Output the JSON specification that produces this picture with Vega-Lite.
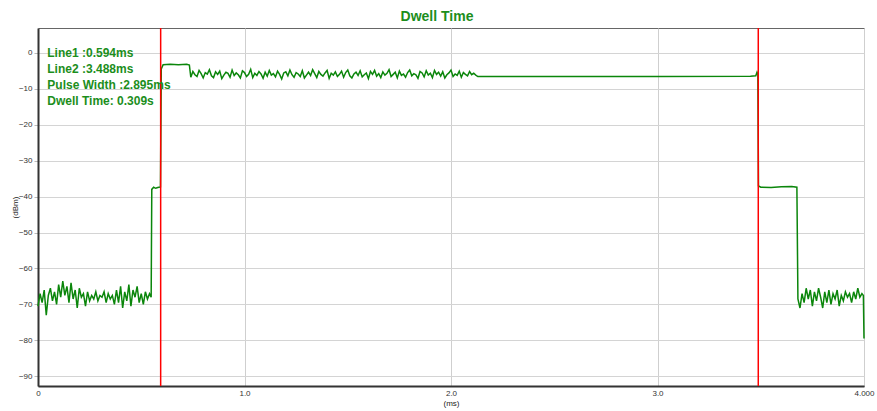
{
  "$schema": "https://vega.github.io/schema/vega-lite/v6.json",
  "width": 826,
  "height": 358,
  "autosize": {"type": "none"},
  "padding": {"left": 38, "top": 28, "right": 13, "bottom": 25},
  "background": "white",
  "title": {"text": "Dwell Time", "fontSize": 14, "fontWeight": "bold", "color": "#1c8e1c", "anchor": "middle", "offset": 3, "dx": -14, "font": "Liberation Sans"},
  "config": {"font": "Liberation Sans", "view": {"stroke": "#666666", "strokeWidth": 1}},
  "datasets": {
    "trace": [
      {"ms": 0.00, "dBm": -70.5}, {"ms": 0.01, "dBm": -67.0}, {"ms": 0.02, "dBm": -69.5}, {"ms": 0.03, "dBm": -66.0}, {"ms": 0.04, "dBm": -73.0},
      {"ms": 0.05, "dBm": -67.5}, {"ms": 0.06, "dBm": -65.5}, {"ms": 0.07, "dBm": -69.0}, {"ms": 0.08, "dBm": -66.5}, {"ms": 0.09, "dBm": -70.0},
      {"ms": 0.10, "dBm": -64.5}, {"ms": 0.11, "dBm": -68.0}, {"ms": 0.12, "dBm": -63.5}, {"ms": 0.13, "dBm": -67.5}, {"ms": 0.14, "dBm": -65.0},
      {"ms": 0.15, "dBm": -69.5}, {"ms": 0.16, "dBm": -64.0}, {"ms": 0.17, "dBm": -68.5}, {"ms": 0.18, "dBm": -66.0}, {"ms": 0.19, "dBm": -71.0},
      {"ms": 0.20, "dBm": -65.5}, {"ms": 0.21, "dBm": -68.0}, {"ms": 0.22, "dBm": -67.0}, {"ms": 0.23, "dBm": -70.5}, {"ms": 0.24, "dBm": -66.5},
      {"ms": 0.25, "dBm": -69.0}, {"ms": 0.26, "dBm": -67.5}, {"ms": 0.27, "dBm": -68.5}, {"ms": 0.28, "dBm": -66.5}, {"ms": 0.29, "dBm": -69.0},
      {"ms": 0.30, "dBm": -67.5}, {"ms": 0.31, "dBm": -68.0}, {"ms": 0.32, "dBm": -66.5}, {"ms": 0.33, "dBm": -69.5}, {"ms": 0.34, "dBm": -67.0},
      {"ms": 0.35, "dBm": -68.5}, {"ms": 0.36, "dBm": -67.5}, {"ms": 0.37, "dBm": -70.0}, {"ms": 0.38, "dBm": -66.0}, {"ms": 0.39, "dBm": -69.5},
      {"ms": 0.40, "dBm": -65.0}, {"ms": 0.41, "dBm": -71.0}, {"ms": 0.42, "dBm": -66.5}, {"ms": 0.43, "dBm": -69.0}, {"ms": 0.44, "dBm": -64.5},
      {"ms": 0.45, "dBm": -70.5}, {"ms": 0.46, "dBm": -66.0}, {"ms": 0.47, "dBm": -68.0}, {"ms": 0.48, "dBm": -65.0}, {"ms": 0.49, "dBm": -69.5},
      {"ms": 0.50, "dBm": -67.0}, {"ms": 0.51, "dBm": -70.0}, {"ms": 0.52, "dBm": -66.5}, {"ms": 0.53, "dBm": -68.5}, {"ms": 0.54, "dBm": -67.0},
      {"ms": 0.548, "dBm": -68.0}, {"ms": 0.551, "dBm": -38.0}, {"ms": 0.56, "dBm": -37.4}, {"ms": 0.57, "dBm": -37.7}, {"ms": 0.58, "dBm": -37.5},
      {"ms": 0.593, "dBm": -37.3}, {"ms": 0.597, "dBm": -4.5}, {"ms": 0.606, "dBm": -3.3}, {"ms": 0.64, "dBm": -3.2}, {"ms": 0.68, "dBm": -3.3},
      {"ms": 0.72, "dBm": -3.2}, {"ms": 0.733, "dBm": -3.4},
      {"ms": 0.74, "dBm": -6.8}, {"ms": 0.75, "dBm": -5.2}, {"ms": 0.76, "dBm": -6.1}, {"ms": 0.77, "dBm": -6.6}, {"ms": 0.78, "dBm": -4.9},
      {"ms": 0.79, "dBm": -5.8}, {"ms": 0.80, "dBm": -7.0}, {"ms": 0.81, "dBm": -5.5}, {"ms": 0.82, "dBm": -5.9}, {"ms": 0.83, "dBm": -4.7},
      {"ms": 0.84, "dBm": -6.4}, {"ms": 0.85, "dBm": -6.9}, {"ms": 0.86, "dBm": -5.3}, {"ms": 0.87, "dBm": -6.0}, {"ms": 0.88, "dBm": -5.1},
      {"ms": 0.89, "dBm": -7.2}, {"ms": 0.90, "dBm": -6.2}, {"ms": 0.91, "dBm": -5.4}, {"ms": 0.92, "dBm": -5.7}, {"ms": 0.93, "dBm": -6.8},
      {"ms": 0.94, "dBm": -4.8}, {"ms": 0.95, "dBm": -6.3}, {"ms": 0.96, "dBm": -5.6}, {"ms": 0.97, "dBm": -6.1}, {"ms": 0.98, "dBm": -7.0},
      {"ms": 0.99, "dBm": -5.0}, {"ms": 1.00, "dBm": -5.5}, {"ms": 1.01, "dBm": -6.6}, {"ms": 1.02, "dBm": -6.0}, {"ms": 1.03, "dBm": -4.6},
      {"ms": 1.04, "dBm": -6.9}, {"ms": 1.05, "dBm": -5.7}, {"ms": 1.06, "dBm": -6.3}, {"ms": 1.07, "dBm": -5.2}, {"ms": 1.08, "dBm": -5.9},
      {"ms": 1.09, "dBm": -7.1}, {"ms": 1.10, "dBm": -5.4}, {"ms": 1.11, "dBm": -6.5}, {"ms": 1.12, "dBm": -4.9}, {"ms": 1.13, "dBm": -6.2},
      {"ms": 1.14, "dBm": -5.8}, {"ms": 1.15, "dBm": -6.7}, {"ms": 1.16, "dBm": -5.1}, {"ms": 1.17, "dBm": -6.0}, {"ms": 1.18, "dBm": -7.3},
      {"ms": 1.19, "dBm": -5.6}, {"ms": 1.20, "dBm": -5.3}, {"ms": 1.21, "dBm": -6.4}, {"ms": 1.22, "dBm": -4.8}, {"ms": 1.23, "dBm": -6.1},
      {"ms": 1.24, "dBm": -6.8}, {"ms": 1.25, "dBm": -5.5}, {"ms": 1.26, "dBm": -5.9}, {"ms": 1.27, "dBm": -6.6}, {"ms": 1.28, "dBm": -5.0},
      {"ms": 1.29, "dBm": -7.0}, {"ms": 1.30, "dBm": -6.2}, {"ms": 1.31, "dBm": -5.4}, {"ms": 1.32, "dBm": -6.3}, {"ms": 1.33, "dBm": -4.7},
      {"ms": 1.34, "dBm": -5.8}, {"ms": 1.35, "dBm": -6.9}, {"ms": 1.36, "dBm": -5.2}, {"ms": 1.37, "dBm": -6.0}, {"ms": 1.38, "dBm": -6.5},
      {"ms": 1.39, "dBm": -5.6}, {"ms": 1.40, "dBm": -4.9}, {"ms": 1.41, "dBm": -7.1}, {"ms": 1.42, "dBm": -5.7}, {"ms": 1.43, "dBm": -6.2},
      {"ms": 1.44, "dBm": -5.3}, {"ms": 1.45, "dBm": -6.6}, {"ms": 1.46, "dBm": -6.0}, {"ms": 1.47, "dBm": -5.1}, {"ms": 1.48, "dBm": -6.8},
      {"ms": 1.49, "dBm": -5.5}, {"ms": 1.50, "dBm": -4.8}, {"ms": 1.51, "dBm": -6.4}, {"ms": 1.52, "dBm": -7.0}, {"ms": 1.53, "dBm": -5.9},
      {"ms": 1.54, "dBm": -5.4}, {"ms": 1.55, "dBm": -6.3}, {"ms": 1.56, "dBm": -5.0}, {"ms": 1.57, "dBm": -6.7}, {"ms": 1.58, "dBm": -6.1},
      {"ms": 1.59, "dBm": -5.6}, {"ms": 1.60, "dBm": -7.2}, {"ms": 1.61, "dBm": -5.2}, {"ms": 1.62, "dBm": -6.0}, {"ms": 1.63, "dBm": -4.9},
      {"ms": 1.64, "dBm": -6.5}, {"ms": 1.65, "dBm": -5.8}, {"ms": 1.66, "dBm": -6.9}, {"ms": 1.67, "dBm": -5.3}, {"ms": 1.68, "dBm": -6.2},
      {"ms": 1.69, "dBm": -5.7}, {"ms": 1.70, "dBm": -4.7}, {"ms": 1.71, "dBm": -6.6}, {"ms": 1.72, "dBm": -6.0}, {"ms": 1.73, "dBm": -5.4},
      {"ms": 1.74, "dBm": -7.0}, {"ms": 1.75, "dBm": -5.1}, {"ms": 1.76, "dBm": -6.3}, {"ms": 1.77, "dBm": -5.9}, {"ms": 1.78, "dBm": -6.8},
      {"ms": 1.79, "dBm": -5.5}, {"ms": 1.80, "dBm": -4.8}, {"ms": 1.81, "dBm": -6.4}, {"ms": 1.82, "dBm": -5.8}, {"ms": 1.83, "dBm": -6.1},
      {"ms": 1.84, "dBm": -7.1}, {"ms": 1.85, "dBm": -5.2}, {"ms": 1.86, "dBm": -5.6}, {"ms": 1.87, "dBm": -6.7}, {"ms": 1.88, "dBm": -5.0},
      {"ms": 1.89, "dBm": -6.2}, {"ms": 1.90, "dBm": -5.7}, {"ms": 1.91, "dBm": -6.9}, {"ms": 1.92, "dBm": -4.9}, {"ms": 1.93, "dBm": -6.0},
      {"ms": 1.94, "dBm": -5.4}, {"ms": 1.95, "dBm": -6.5}, {"ms": 1.96, "dBm": -5.3}, {"ms": 1.97, "dBm": -7.0}, {"ms": 1.98, "dBm": -6.1},
      {"ms": 1.99, "dBm": -5.6}, {"ms": 2.00, "dBm": -4.8}, {"ms": 2.01, "dBm": -6.6}, {"ms": 2.02, "dBm": -5.9}, {"ms": 2.03, "dBm": -6.3},
      {"ms": 2.04, "dBm": -5.1}, {"ms": 2.05, "dBm": -6.8}, {"ms": 2.06, "dBm": -5.5}, {"ms": 2.07, "dBm": -6.0}, {"ms": 2.08, "dBm": -6.4},
      {"ms": 2.09, "dBm": -5.2}, {"ms": 2.10, "dBm": -6.1}, {"ms": 2.11, "dBm": -5.7}, {"ms": 2.12, "dBm": -6.2},
      {"ms": 2.13, "dBm": -6.6}, {"ms": 2.6, "dBm": -6.6}, {"ms": 3.0, "dBm": -6.6}, {"ms": 3.45, "dBm": -6.5}, {"ms": 3.476, "dBm": -6.4},
      {"ms": 3.482, "dBm": -5.4}, {"ms": 3.486, "dBm": -6.0}, {"ms": 3.489, "dBm": -37.0}, {"ms": 3.50, "dBm": -37.4}, {"ms": 3.55, "dBm": -37.5},
      {"ms": 3.60, "dBm": -37.3}, {"ms": 3.65, "dBm": -37.2}, {"ms": 3.675, "dBm": -37.4},
      {"ms": 3.68, "dBm": -68.5}, {"ms": 3.69, "dBm": -71.0}, {"ms": 3.70, "dBm": -67.0}, {"ms": 3.71, "dBm": -69.5}, {"ms": 3.72, "dBm": -65.5},
      {"ms": 3.73, "dBm": -68.5}, {"ms": 3.74, "dBm": -66.0}, {"ms": 3.75, "dBm": -70.5}, {"ms": 3.76, "dBm": -66.5}, {"ms": 3.77, "dBm": -69.0},
      {"ms": 3.78, "dBm": -65.5}, {"ms": 3.79, "dBm": -68.0}, {"ms": 3.80, "dBm": -71.0}, {"ms": 3.81, "dBm": -66.5}, {"ms": 3.82, "dBm": -69.5},
      {"ms": 3.83, "dBm": -66.0}, {"ms": 3.84, "dBm": -70.0}, {"ms": 3.85, "dBm": -67.0}, {"ms": 3.86, "dBm": -68.5}, {"ms": 3.87, "dBm": -66.0},
      {"ms": 3.88, "dBm": -70.5}, {"ms": 3.89, "dBm": -67.5}, {"ms": 3.90, "dBm": -69.0}, {"ms": 3.91, "dBm": -66.5}, {"ms": 3.92, "dBm": -68.0},
      {"ms": 3.93, "dBm": -67.0}, {"ms": 3.94, "dBm": -69.5}, {"ms": 3.95, "dBm": -66.5}, {"ms": 3.96, "dBm": -68.5}, {"ms": 3.97, "dBm": -65.5},
      {"ms": 3.98, "dBm": -68.0}, {"ms": 3.99, "dBm": -67.0}, {"ms": 3.997, "dBm": -67.5}, {"ms": 4.0, "dBm": -79.5}
    ],
    "markers": [{"line": "Line1", "ms": 0.594}, {"line": "Line2", "ms": 3.488}],
    "notes": [{"label": "Line1 :0.594ms\nLine2 :3.488ms\nPulse Width :2.895ms\nDwell Time: 0.309s"}]
  },
  "encoding": {
    "x": {"type": "quantitative", "scale": {"domain": [0, 4], "nice": false, "zero": false},
      "axis": {"title": "(ms)", "values": [0, 1, 2, 3, 4], "labelExpr": "datum.value == 0 ? '0' : (datum.value == 4 ? '4.000' : format(datum.value, '.1f'))",
        "labelFontSize": 8, "labelColor": "#333333", "labelPadding": 3, "labelFlush": false, "labelBound": false, "ticks": false,
        "grid": true, "gridColor": "#cfcfcf", "gridWidth": 1,
        "domainColor": "#333333", "domainWidth": 2,
        "titleFontSize": 8, "titleFontWeight": "normal", "titleColor": "#222222", "titlePadding": 2}},
    "y": {"type": "quantitative", "scale": {"domain": [-92.7, 6.9], "nice": false, "zero": false},
      "axis": {"title": "(dBm)", "values": [-90, -80, -70, -60, -50, -40, -30, -20, -10, 0],
        "labelFontSize": 8, "labelColor": "#333333", "labelPadding": 2, "tickSize": 4, "tickColor": "#bbbbbb",
        "grid": true, "gridColor": "#d4d4d4", "gridWidth": 1,
        "domainColor": "#333333", "domainWidth": 2,
        "titleFontSize": 8, "titleFontWeight": "normal", "titleColor": "#222222", "titlePadding": -1}}
  },
  "layer": [
    {"data": {"name": "trace"}, "mark": {"type": "line", "color": "#0b860b", "strokeWidth": 1.5, "interpolate": "linear"},
      "encoding": {"x": {"field": "ms"}, "y": {"field": "dBm"}}},
    {"data": {"name": "markers"}, "mark": {"type": "rule", "color": "#ff0000", "strokeWidth": 1.5},
      "encoding": {"x": {"field": "ms"}}},
    {"data": {"name": "notes"}, "mark": {"type": "text", "align": "left", "baseline": "top", "lineBreak": "\n", "lineHeight": 16, "fontSize": 12, "fontWeight": "bold", "color": "#1c8e1c"},
      "encoding": {"x": {"datum": 0.045}, "y": {"datum": 1.4}, "text": {"field": "label"}}}
  ]
}
